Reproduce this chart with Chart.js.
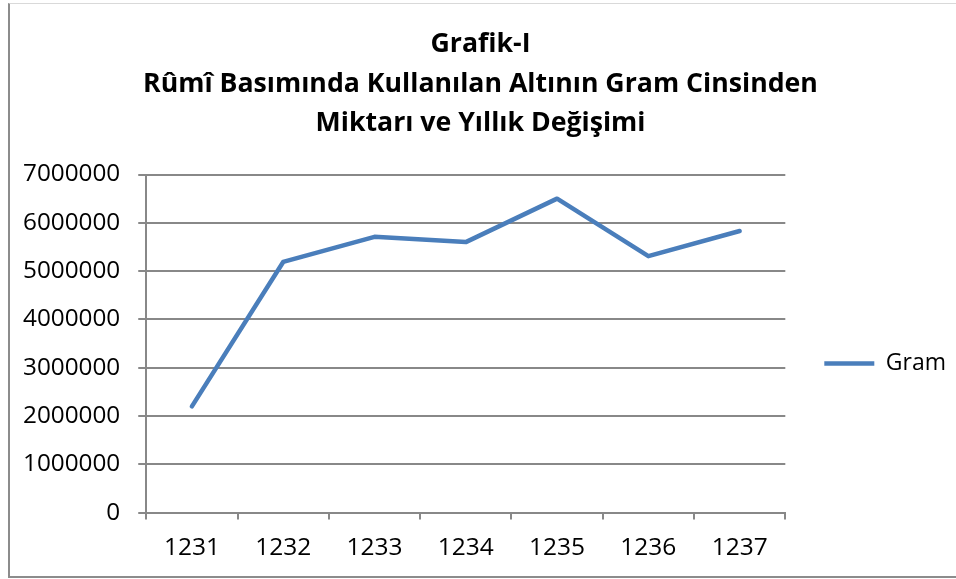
<!DOCTYPE html>
<html>
<head>
<meta charset="utf-8">
<script src="https://cdn.jsdelivr.net/npm/chart.js@4"></script>
<style>
  html, body { margin: 0; padding: 0; background: #fff; }
  #wrap { position: relative; width: 956px; height: 579px; overflow: hidden; }
  #frame {
    position: absolute; left: 8px; top: 3px; width: 960px; height: 572px;
    border-left: 2px solid #8c8c8c; border-top: 1px solid #d9d9d9; border-bottom: 2px solid #8c8c8c;
  }
  #myChart { position: absolute; left: 0; top: 0; }
</style>
</head>
<body>
<div id="wrap">
  <div id="frame"></div>
  <canvas id="myChart" width="956" height="579"></canvas>
</div>
<script>
  // years (Hicri) and gold used, in grams
  var years = ["1231", "1232", "1233", "1234", "1235", "1236", "1237"];
  var gram = [2200000, 5190000, 5710000, 5600000, 6500000, 5310000, 5830000];
  var yTicks = [0, 1000000, 2000000, 3000000, 4000000, 5000000, 6000000, 7000000];
  var titleLines = [
    "Grafik-I",
    "Rûmî Basımında Kullanılan Altının Gram Cinsinden",
    "Miktarı ve Yıllık Değişimi"
  ];

  var gridColor = "#888888";
  var fontName = "'Open Sans', sans-serif";

  var ctx = document.getElementById("myChart").getContext("2d");
  var myChart = new Chart(ctx, {
    type: "line",
    data: {
      labels: years,
      datasets: [{
        label: "Gram",
        data: gram,
        borderColor: "#4a7ebb",
        backgroundColor: "#4a7ebb",
        borderWidth: 4.5,
        tension: 0,
        pointRadius: 0,
        pointHoverRadius: 0,
        borderCapStyle: "round",
        borderJoinStyle: "round",
        pointStyle: "line"
      }]
    },
    options: {
      responsive: false,
      animation: false,
      layout: { padding: { left: 5, right: 0, top: 0, bottom: 2 } },
      plugins: {
        title: {
          display: true,
          text: titleLines,
          color: "#000",
          font: { family: fontName, size: 26.7, weight: "bold", lineHeight: "39.5px" },
          padding: { top: 25, bottom: 31 }
        },
        legend: {
          position: "right",
          fullSize: false,
          title: { display: true, text: "", font: { size: 10 }, padding: 14 },
          labels: {
            usePointStyle: true,
            pointStyleWidth: 50,
            color: "#000",
            padding: 39,
            font: { family: fontName, size: 23 }
          }
        },
        tooltip: { enabled: false }
      },
      scales: {
        x: {
          offset: true,
          grid: {
            offset: true,
            drawOnChartArea: false,
            drawTicks: true,
            tickLength: 7,
            color: gridColor,
            lineWidth: 2
          },
          border: { display: true, color: gridColor, width: 2 },
          ticks: {
            color: "#000",
            padding: 14,
            font: { family: fontName, size: 24.5 }
          }
        },
        y: {
          min: 0,
          max: 7000000,
          afterBuildTicks: function (axis) {
            axis.ticks = yTicks.map(function (v) { return { value: v }; });
          },
          grid: {
            color: gridColor,
            lineWidth: 2,
            tickLength: 8
          },
          border: { display: true, color: gridColor, width: 2 },
          ticks: {
            color: "#000",
            padding: 18,
            font: { family: fontName, size: 24.3 },
            callback: function (v) { return String(v); }
          }
        }
      }
    }
  });
</script>
</body>
</html>
